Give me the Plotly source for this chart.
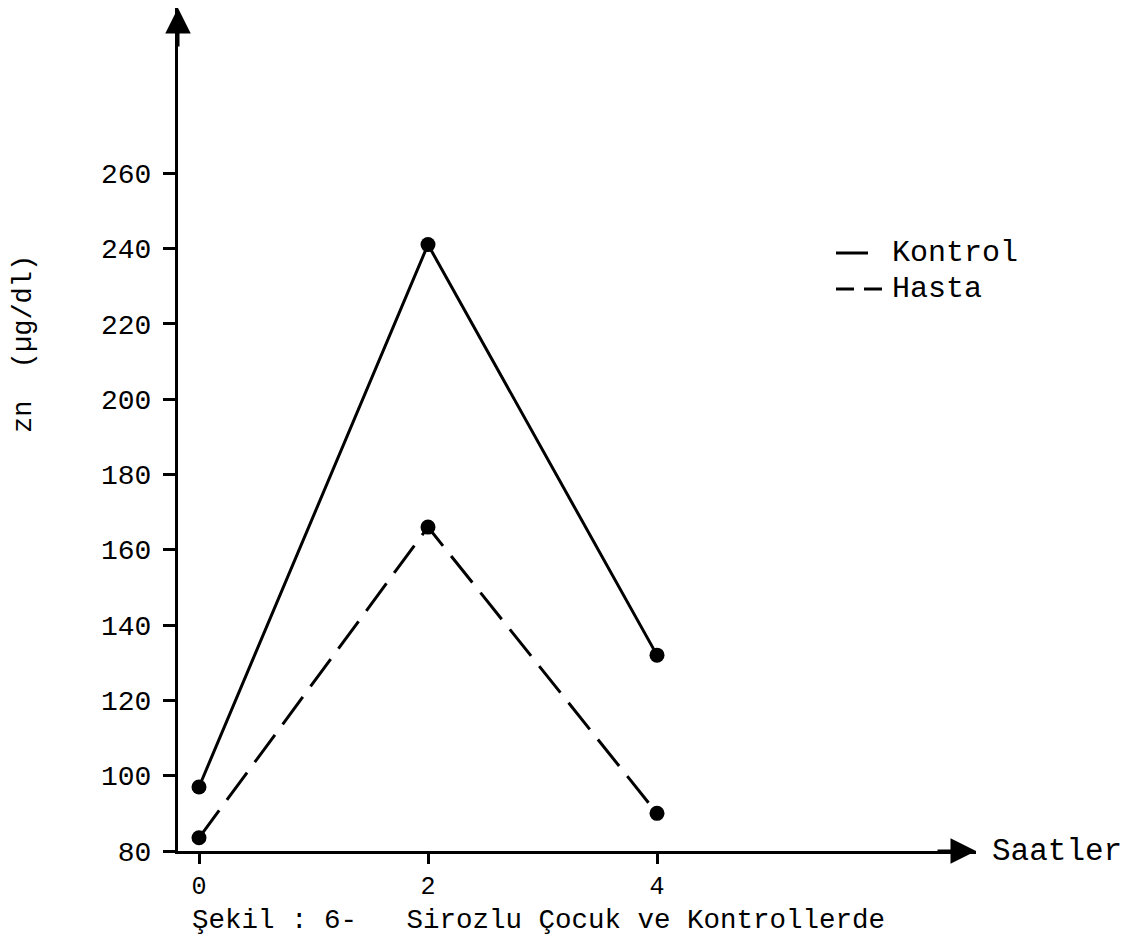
import plotly.graph_objects as go

# Zn levels (µg/dl) measured at 0, 2 and 4 hours
hours = [0, 2, 4]
kontrol = [97, 241, 132]
hasta = [83.5, 166, 90]

y_ticks = [80, 100, 120, 140, 160, 180, 200, 220, 240, 260]
x_ticks = [0, 2, 4]

W, H = 1128, 937
FONT = "Liberation Mono"

# plot frame in pixels (left, right, bottom, top)
left_px, right_px, bottom_px, top_px = 178, 976, 851, 8
x0_px, x_unit_px = 199, 114.5      # pixel of hour 0, pixels per hour
y_unit_px = 75.33 / 20             # pixels per µg/dl

x_lo = (left_px - x0_px) / x_unit_px
x_hi = (right_px - x0_px) / x_unit_px
y_lo = 80
y_hi = 80 + (bottom_px - top_px) / y_unit_px

fig = go.Figure()

fig.add_trace(go.Scatter(
    x=hours, y=kontrol, name="Kontrol", mode="lines+markers",
    line=dict(color="black", width=3),
    marker=dict(color="black", size=15),
    showlegend=False,
))
fig.add_trace(go.Scatter(
    x=hours, y=hasta, name="Hasta", mode="lines+markers",
    line=dict(color="black", width=3, dash="34px,13px"),
    marker=dict(color="black", size=15),
    showlegend=False,
))

fig.update_layout(
    width=W, height=H,
    margin=dict(l=0, r=0, t=0, b=0),
    paper_bgcolor="white", plot_bgcolor="white",
    xaxis=dict(
        domain=[left_px / W, right_px / W],
        range=[x_lo, x_hi],
        tickvals=x_ticks, ticktext=[str(v) for v in x_ticks],
        ticks="outside", ticklen=10, tickwidth=2.5, tickcolor="black",
        showline=True, linecolor="black", linewidth=3,
        showgrid=False, zeroline=False, automargin=False,
        tickfont=dict(family=FONT, size=25, color="black"),
        ticklabelstandoff=0,
    ),
    yaxis=dict(
        domain=[(H - bottom_px) / H, (H - top_px) / H],
        range=[y_lo, y_hi],
        tickvals=y_ticks, ticktext=[str(v) for v in y_ticks],
        ticks="outside", ticklen=12, tickwidth=2.5, tickcolor="black",
        showline=True, linecolor="black", linewidth=3,
        showgrid=False, zeroline=False, automargin=False,
        tickfont=dict(family=FONT, size=28, color="black"),
        ticklabelstandoff=6,
    ),
    showlegend=False,
)

# arrowheads at the ends of both axes
fig.add_annotation(x=x_lo, y=y_hi, xref="x", yref="y", ax=0, ay=40,
                   showarrow=True, arrowhead=2, arrowsize=1.7, arrowwidth=3,
                   arrowcolor="black", text="")
fig.add_annotation(x=x_hi, y=y_lo, xref="x", yref="y", ax=-40, ay=0,
                   showarrow=True, arrowhead=2, arrowsize=1.7, arrowwidth=3,
                   arrowcolor="black", text="")

# axis captions
fig.add_annotation(x=990 / W, y=(H - bottom_px) / H, xref="paper", yref="paper",
                   text="Saatler", showarrow=False, xanchor="left", yanchor="middle",
                   font=dict(family=FONT, size=31, color="black"))
fig.add_annotation(x=24 / W, y=(H - 344) / H, xref="paper", yref="paper",
                   text="zn  (µg/dl)", showarrow=False, textangle=-90,
                   xanchor="center", yanchor="middle",
                   font=dict(family=FONT, size=27, color="black"))
fig.add_annotation(x=190 / W, y=(H - 920) / H, xref="paper", yref="paper",
                   text="Şekil : 6-   Sirozlu Çocuk ve Kontrollerde",
                   showarrow=False, xanchor="left", yanchor="middle",
                   font=dict(family=FONT, size=27.5, color="black"))

# key for the two series
key = [("Kontrol", 253, "solid"), ("Hasta", 289, "18px,10px")]
for name, ypx, dash in key:
    fig.add_shape(type="line", xref="paper", yref="paper",
                  x0=836 / W, x1=(868 if dash == "solid" else 882) / W,
                  y0=(H - ypx) / H, y1=(H - ypx) / H,
                  line=dict(color="black", width=3, dash=dash))
    fig.add_annotation(x=890 / W, y=(H - ypx) / H, xref="paper", yref="paper",
                       text=name, showarrow=False, xanchor="left", yanchor="middle",
                       font=dict(family=FONT, size=30, color="black"))

fig.write_html("out.html")
